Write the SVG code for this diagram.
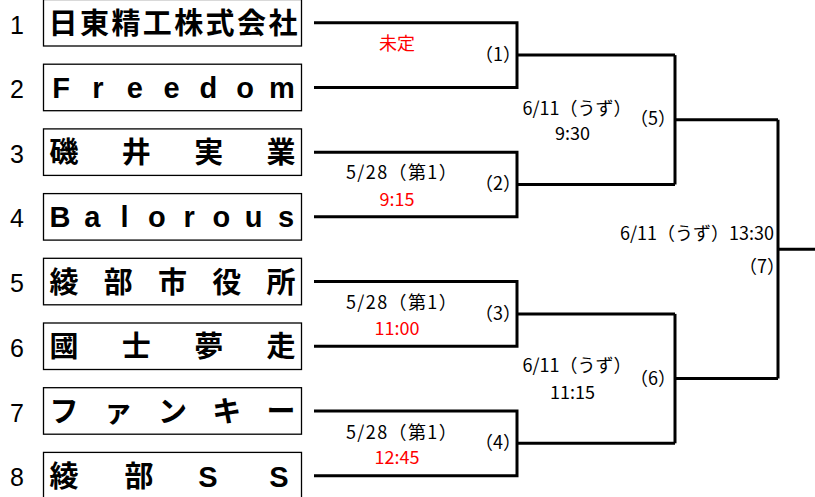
<svg xmlns="http://www.w3.org/2000/svg" width="815" height="497" viewBox="0 0 815 497">
<style>
.box{fill:#fff;stroke:#000;stroke-width:1.3}
.name{font-family:"Liberation Sans","Noto Sans CJK JP",sans-serif;font-size:29px;font-weight:bold;fill:#000;text-anchor:middle}
.seed{font-family:"Liberation Sans","Noto Sans CJK JP",sans-serif;font-size:25px;fill:#000;text-anchor:middle}
.lbl{font-family:"Noto Sans CJK JP",sans-serif;font-size:18px;fill:#000;text-anchor:middle}
.date{letter-spacing:1.4px}
.red{fill:#ff0000}
.line{fill:none;stroke:#000;stroke-width:3}
</style>
<rect width="815" height="497" fill="#fff"/>
<g id="team1"><text class="seed" x="17" y="33.5">1</text><rect class="box" x="43.5" y="-0.5" width="258" height="46.5"/><text class="name" x="63 94.4 125.9 157.3 188.7 220.1 251.6 283" y="33.75">日東精工株式会社</text></g>
<g id="team2"><text class="seed" x="17" y="98">2</text><rect class="box" x="43.5" y="64.2" width="258" height="46.5"/><text class="name" x="61 97.8 134.7 171.5 208.3 245.2 282" y="97.8">Freedom</text></g>
<g id="team3"><text class="seed" x="17" y="162.7">3</text><rect class="box" x="43.5" y="128.9" width="258" height="46.5"/><text class="name" x="64 136.3 208.7 281" y="163.15">磯井実業</text></g>
<g id="team4"><text class="seed" x="17" y="227.4">4</text><rect class="box" x="43.5" y="193.6" width="258" height="46.5"/><text class="name" x="60 92.3 124.6 156.9 189.1 221.4 253.7 286" y="227.2">Balorous</text></g>
<g id="team5"><text class="seed" x="17" y="292.1">5</text><rect class="box" x="43.5" y="258.3" width="258" height="46.5"/><text class="name" x="64 118.25 172.5 226.75 281" y="292.55">綾部市役所</text></g>
<g id="team6"><text class="seed" x="17" y="356.8">6</text><rect class="box" x="43.5" y="323" width="258" height="46.5"/><text class="name" x="64 136.3 208.7 281" y="357.25">國士夢走</text></g>
<g id="team7"><text class="seed" x="17" y="421.5">7</text><rect class="box" x="43.5" y="387.7" width="258" height="46.5"/><text class="name" x="64 118.25 172.5 226.75 281" y="421.95">ファンキー</text></g>
<g id="team8"><text class="seed" x="17" y="486.2">8</text><rect class="box" x="43.5" y="452.4" width="258" height="46.5"/><text class="name" x="64 139 208 279" y="486.65">綾部SS</text></g>
<g id="connectors">
<path class="line" d="M314 22.75 H517 V87.45 H314"/>
<path class="line" d="M517 55.1 H675"/>
<path class="line" d="M314 152.15 H517 V216.85 H314"/>
<path class="line" d="M517 184.5 H675"/>
<path class="line" d="M314 281.55 H517 V346.25 H314"/>
<path class="line" d="M517 313.9 H675"/>
<path class="line" d="M314 410.95 H517 V475.65 H314"/>
<path class="line" d="M517 443.3 H675"/>
<path class="line" d="M675 55.1 V184.5"/>
<path class="line" d="M675 119.8 H778"/>
<path class="line" d="M675 313.9 V443.3"/>
<path class="line" d="M675 378.6 H778"/>
<path class="line" d="M778 119.8 V378.6"/>
<path class="line" d="M778 249.2 H815"/>
</g>
<g id="match1"><text class="lbl red" x="397" y="50">未定</text><text class="lbl" x="498" y="61">（1）</text></g>
<g id="match2"><text class="lbl date" x="402" y="178.6">5/28（第1）</text><text class="lbl red" x="397" y="205.5">9:15</text><text class="lbl" x="498" y="190">（2）</text></g>
<g id="match3"><text class="lbl date" x="402" y="308.6">5/28（第1）</text><text class="lbl red" x="397" y="334.6">11:00</text><text class="lbl" x="498" y="320">（3）</text></g>
<g id="match4"><text class="lbl date" x="402" y="438.6">5/28（第1）</text><text class="lbl red" x="397" y="463.6">12:45</text><text class="lbl" x="498" y="449">（4）</text></g>
<g id="match5"><text class="lbl" x="577" y="114.6">6/11（うず）</text><text class="lbl" x="572.5" y="139.6">9:30</text><text class="lbl" x="653" y="125">（5）</text></g>
<g id="match6"><text class="lbl" x="577" y="371.6">6/11（うず）</text><text class="lbl" x="572.5" y="398.6">11:15</text><text class="lbl" x="653" y="385">（6）</text></g>
<g id="match7"><text class="lbl" x="774" y="239.6" style="text-anchor:end">6/11（うず）13:30</text><text class="lbl" x="762" y="273">（7）</text></g>
</svg>
